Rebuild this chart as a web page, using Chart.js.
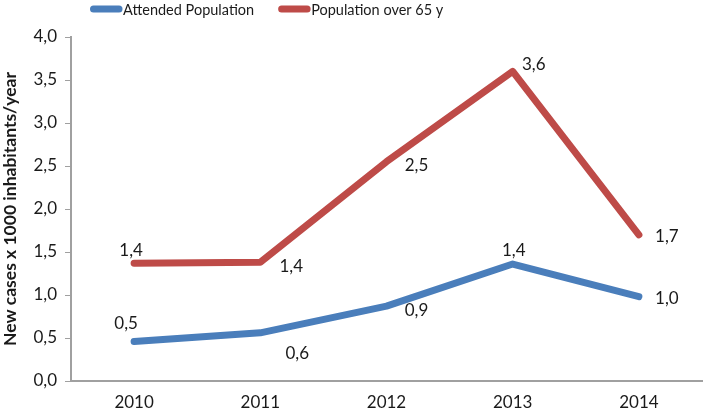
<!DOCTYPE html>
<html><head><meta charset="utf-8">
<script src="https://cdn.jsdelivr.net/npm/chart.js@4"></script>
<style>html,body{margin:0;padding:0;background:#fff}#wrap{width:704px;height:417px}</style>
</head><body><div id="wrap"><canvas id="c" width="704" height="417"></canvas></div>
<script>
const categories = ['2010','2011','2012','2013','2014'];
const attended = [0.46, 0.56, 0.87, 1.36, 0.98];
const over65 = [1.37, 1.38, 2.55, 3.60, 1.70];
const seriesNames = ['Attended Population','Population over 65 y'];
const yTicks = [0,0.5,1,1.5,2,2.5,3,3.5,4];
const yTitle = 'New cases x 1000 inhabitants/year';

const FONT = 'Lato';
const TEXT = '#1a1a1a';
const fmt = v => v.toFixed(1).replace('.', ',');

// label offsets (dx, dy) per dataset point
const labelOffsets = [
  [[-8,-18],[37,21],[30,4],[1,-14],[28,2]],
  [[-3,-13],[31,4],[30,4],[21,-7],[28,2]]
];

const labelPlugin = {
  id: 'pointLabels',
  afterDatasetsDraw(chart) {
    const ctx = chart.ctx;
    ctx.save();
    ctx.font = '17px ' + FONT;
    ctx.fillStyle = TEXT;
    ctx.textAlign = 'center';
    ctx.textBaseline = 'middle';
    chart.data.datasets.forEach((ds, di) => {
      const meta = chart.getDatasetMeta(di);
      meta.data.forEach((pt, i) => {
        const o = labelOffsets[di][i];
        ctx.fillText(fmt(ds.data[i]), pt.x + o[0], pt.y + o[1]);
      });
    });
    ctx.restore();
  }
};

const legendPlugin = {
  id: 'customLegend',
  afterDraw(chart) {
    const ctx = chart.ctx;
    ctx.save();
    ctx.font = '14.5px ' + FONT;
    ctx.textBaseline = 'middle';
    ctx.textAlign = 'left';
    let x = 90;
    const y = 9;
    chart.data.datasets.forEach(ds => {
      ctx.strokeStyle = ds.borderColor;
      ctx.lineWidth = 7;
      ctx.lineCap = 'round';
      ctx.beginPath();
      ctx.moveTo(x + 3.5, y);
      ctx.lineTo(x + 29, y);
      ctx.stroke();
      ctx.fillStyle = TEXT;
      ctx.fillText(ds.label, x + 33, y + 1);
      x += 33 + ctx.measureText(ds.label).width + 24;
    });
    ctx.restore();
  }
};

new Chart(document.getElementById('c'), {
  type: 'line',
  data: {
    labels: categories,
    datasets: [
      {label: seriesNames[0], data: attended, borderColor: '#4A7EBB', backgroundColor: '#4A7EBB', borderWidth: 7, pointRadius: 0, borderCapStyle: 'round', borderJoinStyle: 'round', tension: 0},
      {label: seriesNames[1], data: over65, borderColor: '#BE4B48', backgroundColor: '#BE4B48', borderWidth: 7, pointRadius: 0, borderCapStyle: 'round', borderJoinStyle: 'round', tension: 0}
    ]
  },
  options: {
    responsive: false,
    animation: false,
    devicePixelRatio: 1,
    layout: {padding: {left: 0, right: 2, top: 37, bottom: 0}},
    plugins: {
      tooltip: {enabled: false},
      legend: {display: false}
    },
    scales: {
      x: {
        offset: true,
        afterFit: ax => { ax.height = 36; },
        grid: {display: false, drawTicks: false},
        border: {display: true, color: '#a0a0a0', width: 2},
        ticks: {color: TEXT, font: {family: FONT, size: 17}, padding: 11, maxRotation: 0}
      },
      y: {
        min: 0, max: 4,
        afterFit: ax => { ax.width = 71; },
        afterBuildTicks: ax => { ax.ticks = yTicks.map(v => ({value: v})); },
        grid: {drawOnChartArea: false, drawTicks: true, tickLength: 6, color: '#a0a0a0', lineWidth: 1},
        border: {display: true, color: '#a0a0a0', width: 2},
        ticks: {color: TEXT, font: {family: FONT, size: 17}, padding: 8, callback: v => fmt(v)},
        title: {display: true, text: yTitle, color: TEXT, font: {family: FONT, size: 17.5, weight: 'bold'}, padding: {top: 0, bottom: 4}}
      }
    }
  },
  plugins: [labelPlugin, legendPlugin]
});
</script></body></html>
